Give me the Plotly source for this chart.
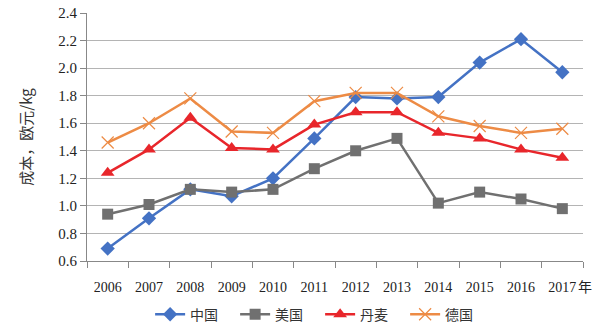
import plotly.graph_objects as go

years = ["2006", "2007", "2008", "2009", "2010", "2011", "2012", "2013", "2014", "2015", "2016", "2017"]
china = [0.69, 0.91, 1.12, 1.07, 1.20, 1.49, 1.79, 1.78, 1.79, 2.04, 2.21, 1.97]
usa = [0.94, 1.01, 1.12, 1.10, 1.12, 1.27, 1.40, 1.49, 1.02, 1.10, 1.05, 0.98]
denmark = [1.24, 1.41, 1.64, 1.42, 1.41, 1.59, 1.68, 1.68, 1.53, 1.49, 1.41, 1.35]
germany = [1.46, 1.60, 1.78, 1.54, 1.53, 1.76, 1.82, 1.82, 1.65, 1.58, 1.53, 1.56]
names = ["中国", "美国", "丹麦", "德国"]
yticks = [0.6, 0.8, 1.0, 1.2, 1.4, 1.6, 1.8, 2.0, 2.2, 2.4]

fig = go.Figure()
fig.add_trace(go.Scatter(x=years, y=china, name=names[0], mode="lines+markers",
                         line=dict(color="#4472c4", width=2.5),
                         marker=dict(symbol="diamond", size=11, color="#4472c4")))
fig.add_trace(go.Scatter(x=years, y=usa, name=names[1], mode="lines+markers",
                         line=dict(color="#707070", width=2.5),
                         marker=dict(symbol="square", size=11, color="#707070")))
fig.add_trace(go.Scatter(x=years, y=denmark, name=names[2], mode="lines+markers",
                         line=dict(color="#e8262b", width=2.5),
                         marker=dict(symbol="triangle-up", size=12, color="#e8262b")))
fig.add_trace(go.Scatter(x=years, y=germany, name=names[3], mode="lines+markers",
                         line=dict(color="#ed8b45", width=2.5),
                         marker=dict(symbol="x-thin", size=12, line=dict(color="#ed8b45", width=1.2))))

serif = "Liberation Serif, Times New Roman, serif"
cjk = "Noto Sans CJK SC, sans-serif"

fig.update_layout(
    width=603, height=330,
    margin=dict(l=87, r=20, t=13, b=69, autoexpand=False),
    plot_bgcolor="white", paper_bgcolor="white",
    showlegend=True,
    legend=dict(orientation="h", x=0.47, xanchor="center", y=0.095, yref="container", yanchor="top",
                font=dict(family=cjk, size=14, color="#333333"),
                entrywidth=40, entrywidthmode="pixels", tracegroupgap=0),
    xaxis=dict(type="category", tickson="boundaries", ticks="outside", ticklen=6,
               tickcolor="#888888", showline=True, linecolor="#888888", linewidth=1,
               showgrid=False, tickfont=dict(family=serif, size=14, color="#222222"),
               ticklabelstandoff=13, range=[-0.5, 11.5], automargin=False),
    yaxis=dict(range=[0.6, 2.4], tickvals=yticks, ticktext=[f"{v:.1f}" for v in yticks],
               ticks="outside", ticklen=6, tickcolor="#888888",
               showline=True, linecolor="#888888", linewidth=1,
               showgrid=True, gridcolor="#b4b4b4", gridwidth=1, automargin=False,
               tickfont=dict(family=serif, size=15, color="#222222"),
               title=dict(text="成本，欧元/kg", font=dict(family=cjk, size=15, color="#333333"), standoff=22)),
    annotations=[dict(text="年", x=0.986, xref="paper", xanchor="left", y=-0.1, yref="paper",
                      yanchor="middle", showarrow=False, font=dict(family=cjk, size=14, color="#222222"))],
)

fig.write_html("out.html")
